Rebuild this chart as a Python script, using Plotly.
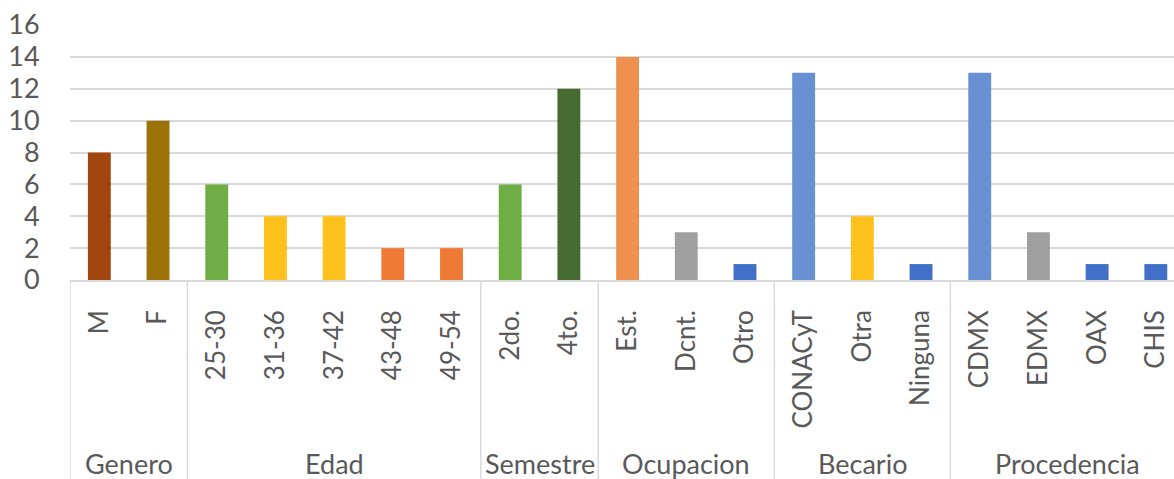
import plotly.graph_objects as go

groups = ["Genero", "Edad", "Semestre", "Ocupacion", "Becario", "Procedencia"]
group_sizes = [2, 5, 2, 3, 3, 4]
categories = ["M", "F",
              "25-30", "31-36", "37-42", "43-48", "49-54",
              "2do.", "4to.",
              "Est.", "Dcnt.", "Otro",
              "CONACyT", "Otra", "Ninguna",
              "CDMX", "EDMX", "OAX", "CHIS"]
values = [8, 10,
          6, 4, 4, 2, 2,
          6, 12,
          14, 3, 1,
          13, 4, 1,
          13, 3, 1, 1]
y_ticks = [0, 2, 4, 6, 8, 10, 12, 14, 16]

bar_colors = ["#A2460F", "#9C7208",
              "#6EAE45", "#FFC21C", "#FFC21C", "#EE7A35", "#EE7A35",
              "#6EAE45", "#466B30",
              "#F0904F", "#A0A0A0", "#4270C8",
              "#6890D3", "#FFC21C", "#4270C8",
              "#6890D3", "#A0A0A0", "#4270C8", "#4270C8"]

TXT = "#595959"
GRID = "#D9D9D9"
FONT = "Lato"

x_idx = list(range(len(categories)))

fig = go.Figure()
fig.add_trace(go.Bar(
    x=x_idx, y=values, width=0.39,
    marker=dict(color=bar_colors, line=dict(width=0)),
    hoverinfo="skip", showlegend=False,
))

# group dividers and labels
start = 0
bounds = [-0.5]
for g, n in zip(groups, group_sizes):
    center = start + (n - 1) / 2
    fig.add_annotation(x=center, y=-0.718, xref="x", yref="paper",
                       text=g, showarrow=False, yanchor="middle",
                       font=dict(family=FONT, size=27, color=TXT))
    start += n
    bounds.append(start - 0.5)
for b in bounds:
    fig.add_shape(type="line", xref="x", yref="paper", x0=b, x1=b,
                  y0=0, y1=-0.8, line=dict(color=GRID, width=1.5))

fig.update_layout(
    width=1174, height=479,
    margin=dict(l=70, r=0, t=25, b=199),
    paper_bgcolor="white", plot_bgcolor="white",
    bargap=0.6,
    xaxis=dict(range=[-0.5, 18.31], tickmode="array", tickvals=x_idx,
               ticktext=categories, tickangle=-90,
               ticks="outside", ticklen=18, tickcolor="rgba(0,0,0,0)",
               showgrid=False, showline=True, linecolor=GRID, linewidth=1.5,
               tickfont=dict(family=FONT, size=26, color=TXT), zeroline=False),
    yaxis=dict(range=[0, 16], tickmode="array", tickvals=y_ticks,
               ticks="outside", ticklen=24, tickcolor="rgba(0,0,0,0)",
               showgrid=True, gridcolor=GRID, gridwidth=1.5,
               zeroline=False, showline=False,
               tickfont=dict(family=FONT, size=27, color=TXT)),
)

fig.write_html("out.html")
